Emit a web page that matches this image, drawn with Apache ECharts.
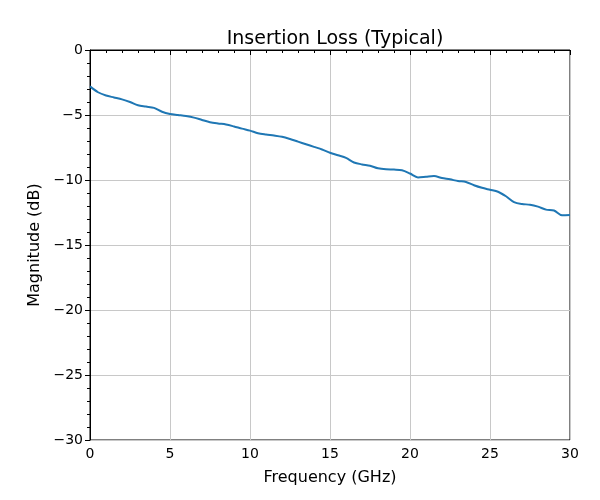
<!DOCTYPE html>
<html>
<head>
<meta charset="utf-8">
<script src="https://cdn.jsdelivr.net/npm/echarts@6/dist/echarts.min.js"></script>
<style>html,body{margin:0;padding:0;background:#fff}#c{width:600px;height:500px}</style>
</head>
<body>
<div id="c"></div>
<script>
const freqGHz = [0,0.5,1,1.5,2,2.5,3,3.5,4,4.5,5,5.5,6,6.5,7,7.5,8,8.5,9,9.5,10,10.5,11,11.5,12,12.5,13,13.5,14,14.5,15,15.5,16,16.5,17,17.5,18,18.5,19,19.5,20,20.5,21,21.5,22,22.5,23,23.5,24,24.5,25,25.5,26,26.5,27,27.5,28,28.5,29,29.5,30];
const magnitudeDB = [-2.80,-3.25,-3.5,-3.65,-3.8,-4.0,-4.25,-4.35,-4.45,-4.75,-4.92,-5.0,-5.08,-5.2,-5.38,-5.55,-5.65,-5.73,-5.88,-6.05,-6.2,-6.4,-6.5,-6.58,-6.68,-6.85,-7.05,-7.25,-7.45,-7.65,-7.9,-8.1,-8.3,-8.65,-8.8,-8.9,-9.1,-9.18,-9.2,-9.25,-9.5,-9.8,-9.75,-9.7,-9.85,-9.95,-10.08,-10.15,-10.4,-10.6,-10.75,-10.9,-11.25,-11.7,-11.85,-11.9,-12.05,-12.28,-12.35,-12.72,-12.7];
const titleText = 'Insertion Loss (Typical)';
const xName = 'Frequency (GHz)';
const yName = 'Magnitude (dB)';

const chart = echarts.init(document.getElementById('c'), null, {renderer:'canvas'});
const font = 'DejaVu Sans';
const fmt = v => String(v).replace('-', '\u2212');
chart.setOption({
  animation:false,
  backgroundColor:'#fff',
  title:{text:titleText,left:330,top:25,textAlign:'center',textStyle:{fontFamily:font,fontSize:19,fontWeight:'normal',color:'#000'}},
  grid:{left:90,right:30,top:50,bottom:60,show:true,borderColor:'#000',borderWidth:1,backgroundColor:'transparent'},
  xAxis:{type:'value',min:0,max:30,interval:5,
    name:xName,nameLocation:'middle',nameGap:30,nameTextStyle:{fontFamily:font,fontSize:16,color:'#000'},
    axisLine:{show:true,lineStyle:{color:'#000',width:1}},
    axisTick:{show:true,inside:false,length:5,lineStyle:{color:'#000'}},
    minorTick:{show:true,splitNumber:5,length:3,lineStyle:{color:'#000'}},
    axisLabel:{fontFamily:font,fontSize:14,color:'#000',margin:7,formatter:fmt},
    splitLine:{show:true,lineStyle:{color:'#c8c8c8',width:1}}},
  yAxis:{type:'value',min:-30,max:0,interval:5,
    name:yName,nameLocation:'middle',nameGap:46,nameRotate:90,nameTextStyle:{fontFamily:font,fontSize:16,color:'#000'},
    axisLine:{show:true,lineStyle:{color:'#000',width:1}},
    axisTick:{show:true,inside:false,length:5,lineStyle:{color:'#000'}},
    minorTick:{show:true,splitNumber:5,length:3,lineStyle:{color:'#000'}},
    axisLabel:{fontFamily:font,fontSize:14,color:'#000',margin:7,formatter:fmt},
    splitLine:{show:true,lineStyle:{color:'#c8c8c8',width:1}}},
  series:[{type:'line',data:freqGHz.map((f,i)=>[f,magnitudeDB[i]]),showSymbol:false,smooth:0.3,
    lineStyle:{color:'#1f77b4',width:2},itemStyle:{color:'#1f77b4'}}]
});
</script>
</body>
</html>
